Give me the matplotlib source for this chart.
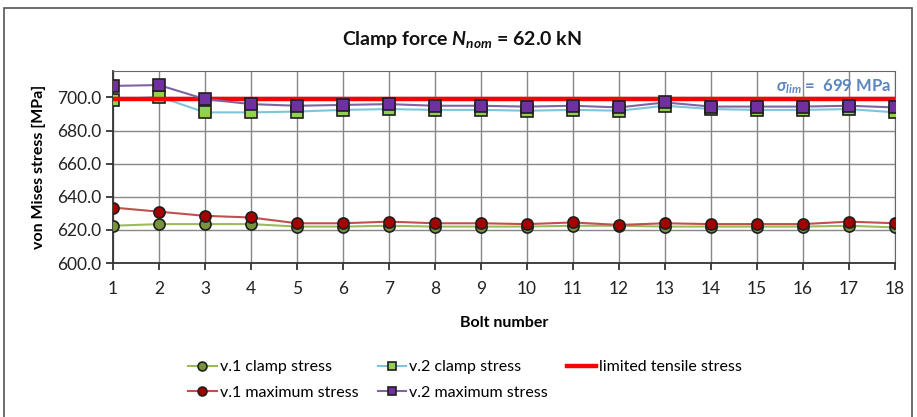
"""Clamp force chart: von Mises stress per bolt"""
import matplotlib
matplotlib.use("Agg")
import matplotlib.pyplot as plt
from matplotlib.patches import Rectangle

plt.rcParams['font.family'] = ['Lato', 'DejaVu Sans']
plt.rcParams['mathtext.fontset'] = 'custom'
plt.rcParams['mathtext.rm'] = 'Lato:bold'
plt.rcParams['mathtext.it'] = 'Lato:bold:italic'
plt.rcParams['mathtext.bf'] = 'Lato:bold'

# Data
bolts = list(range(1, 19))
v1_clamp = [622.5, 623.5, 623.5, 623.5, 622, 622, 622.5, 622, 622, 622,
            622.5, 622.5, 622, 622, 622, 622, 622.5, 621.5]
v2_clamp = [698.5, 700.5, 691, 691, 691.5, 692.5, 693, 692.5, 692.5, 692,
            692.5, 692, 695, 693, 692.5, 692.5, 693, 691]
v1_max = [633.5, 631, 628.5, 627.5, 624, 624, 625, 624, 624, 623.5,
          624.5, 623, 624, 623.5, 623.5, 623.5, 625, 624]
v2_max = [707, 707.5, 699, 696, 695, 695.5, 696, 695, 695, 694.5,
          695, 694, 697, 694.5, 694.5, 694.5, 695, 694]
sigma_lim = 699
y_ticks = [600, 620, 640, 660, 680, 700]

fig = plt.figure(figsize=(9.17, 4.17), dpi=100)
fig.patches.append(Rectangle((4 / 917, -0.02), 908 / 917, 1 - 8 / 417 + 0.02,
                             transform=fig.transFigure, fill=False,
                             edgecolor='#555555', linewidth=1.2))

ax = fig.add_axes([113 / 917, 1 - 263 / 417, 782 / 917, 192 / 417])

l1, = ax.plot(bolts, v1_clamp, color='#9bbb59', lw=1.5, marker='o', ms=8,
              mfc='#77933c', mec='#1f1f1f', mew=1.2, label='v.1 clamp stress', zorder=3)
l2, = ax.plot(bolts, v2_clamp, color='#7fc4d8', lw=1.5, marker='s', ms=8,
              mfc='#92d050', mec='#1f1f1f', mew=1.2, label='v.2 clamp stress', zorder=3)
l3, = ax.plot([bolts[0], bolts[-1]], [sigma_lim, sigma_lim], color='#ff0000', lw=3.2,
              label='limited tensile stress', zorder=4)
l4, = ax.plot(bolts, v1_max, color='#c0504d', lw=1.5, marker='o', ms=8,
              mfc='#a50000', mec='#1f1f1f', mew=1.2, label='v.1 maximum stress', zorder=5)
l5, = ax.plot(bolts, v2_max, color='#8064a2', lw=1.5, marker='s', ms=8,
              mfc='#7030a0', mec='#1f1f1f', mew=1.2, label='v.2 maximum stress', zorder=5)

ax.set_xlim(1, 18)
ax.set_ylim(600, 716)
ax.set_xticks(bolts)
ax.set_yticks(y_ticks)
ax.set_yticklabels([f"{v:.1f}" for v in y_ticks])
ax.grid(True, color='#888888', linewidth=1)
ax.set_axisbelow(True)
for s in ['top', 'right']:
    ax.spines[s].set_color('#666666')
for s in ['left', 'bottom']:
    ax.spines[s].set_color('#333333')
    ax.spines[s].set_linewidth(1.3)
ax.tick_params(axis='both', labelsize=12.5, colors='#222222', length=5, width=1.2)
ax.tick_params(axis='x', pad=8)

ax.set_xlabel('Bolt number', fontsize=11.5, fontweight='bold', labelpad=14)
ax.set_ylabel('von Mises stress [MPa]', fontsize=11.5, fontweight='bold', labelpad=8)

ax.text(0.995, 0.965, r'$\sigma_{lim}$ =  699 MPa', transform=ax.transAxes,
        ha='right', va='top', fontsize=12, fontweight='bold', color='#5b87bd')

fig.text(462 / 917, 1 - 40 / 417, r'Clamp force $N_{nom}$ = 62.0 kN', ha='center', va='center',
         fontsize=14, fontweight='bold', color='#111111')

fig.legend([l1, l4, l2, l5, l3],
           [h.get_label() for h in [l1, l4, l2, l5, l3]],
           loc='center', bbox_to_anchor=(465 / 917, 1 - 380 / 417), ncol=3,
           frameon=False, fontsize=11.5, handlelength=1.8, columnspacing=1.2,
           handletextpad=0.2, labelspacing=0.7, markerscale=0.8)

fig.savefig('out.png', dpi=100)
